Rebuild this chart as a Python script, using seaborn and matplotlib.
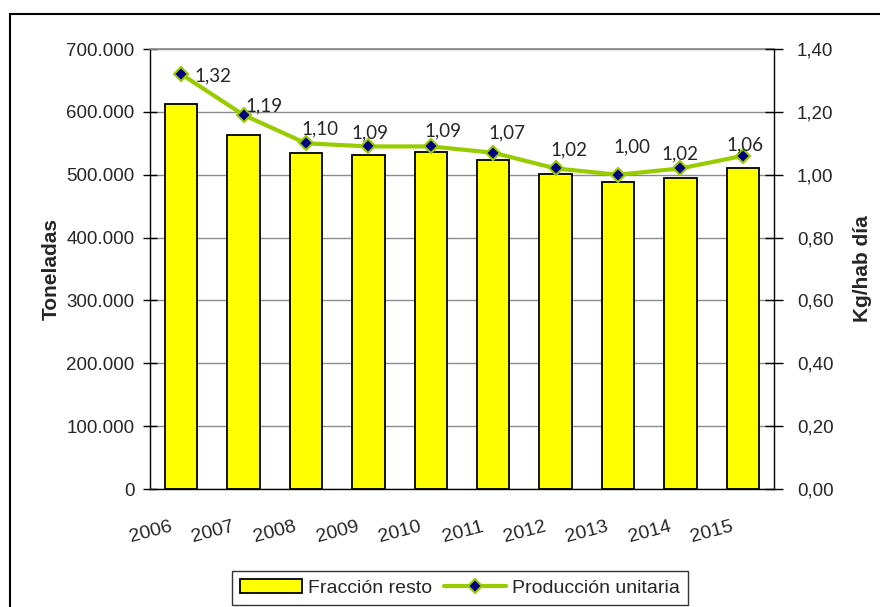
import matplotlib
matplotlib.use('Agg')
import matplotlib.pyplot as plt
import matplotlib.ticker as mticker
from matplotlib.patches import Rectangle
import seaborn as sns
import pandas as pd

# data
years = ["2006", "2007", "2008", "2009", "2010", "2011", "2012", "2013", "2014", "2015"]
toneladas = [612000, 563500, 534000, 531000, 536500, 523500, 501500, 488500, 494000, 510000]
kg_hab_dia = [1.32, 1.19, 1.10, 1.09, 1.09, 1.07, 1.02, 1.00, 1.02, 1.06]
label_text = ["1,32", "1,19", "1,10", "1,09", "1,09", "1,07", "1,02", "1,00", "1,02", "1,06"]
# manual label offsets in pixels (dx, dy) like the original
label_offsets = [(32, -2), (20, 9), (14, 14), (2, 14), (12, 16), (14, 20),
                 (13, 19), (14, 28), (0, 15), (2, 11)]

df = pd.DataFrame({"year": years, "ton": toneladas, "kg": kg_hab_dia})

sns.set_theme(style="white")
plt.rcParams['font.family'] = ['Liberation Sans', 'DejaVu Sans']

BAR = "#FFFF00"
LINE = "#99CC00"
MARK = "#000080"

fig = plt.figure(figsize=(8.8, 6.07), dpi=100)
ax = fig.add_axes([150/880, 1 - 489/607, (774 - 150)/880, (489 - 49)/607])

sns.barplot(data=df, x="year", y="ton", color=BAR, edgecolor="black",
            linewidth=1.3, width=0.52, saturation=1, ax=ax, label="Fracción resto")
ax.set_ylim(0, 700000)
ax.set_xlim(-0.5, 9.5)
ax.yaxis.set_major_locator(mticker.MultipleLocator(100000))
ax.yaxis.set_major_formatter(mticker.FuncFormatter(
    lambda v, p: f"{int(v):,}".replace(",", ".")))
ax.grid(axis="y", color="#8c8c8c", linewidth=1.0)
ax.set_axisbelow(True)
ax.set_xlabel("")
ax.set_ylabel("Toneladas", fontsize=15, fontweight="bold", labelpad=4)

# Excel-style category ticks at the boundaries
ax.set_xticks(range(len(years)))
ax.set_xticklabels(years, fontsize=14, family=["Liberation Sans", "DejaVu Sans"])
ax.set_xticks([i - 0.5 for i in range(len(years) + 1)], minor=True)
ax.tick_params(axis="x", which="major", length=0, pad=21)
ax.tick_params(axis="x", which="minor", length=10, width=1, direction="inout", color="black")
ax.tick_params(axis="y", length=10, width=1, direction="inout", color="black",
               labelsize=13.5, pad=6, left=True)
for lab in ax.get_xticklabels():
    lab.set_rotation(15)
    lab.set_ha("right")
    lab.set_rotation_mode("anchor")
    lab.set_transform(lab.get_transform() +
                      matplotlib.transforms.ScaledTranslation(-0.12, 0, fig.dpi_scale_trans))

for s in ["left", "bottom", "right"]:
    ax.spines[s].set_color("black")
    ax.spines[s].set_linewidth(1.0)
ax.spines["top"].set_color("#8c8c8c")

ax2 = ax.twinx()
sns.lineplot(data=df, x="year", y="kg", ax=ax2, color=LINE, linewidth=3,
             marker="D", markersize=7, markerfacecolor=MARK, markeredgecolor=LINE,
             markeredgewidth=1.5, label="Producción unitaria")
ax2.set_ylim(0, 1.4)
ax2.set_xlim(-0.5, 9.5)
ax2.yaxis.set_major_locator(mticker.MultipleLocator(0.2))
ax2.yaxis.set_major_formatter(mticker.FuncFormatter(
    lambda v, p: f"{v:.2f}".replace(".", ",")))
ax2.tick_params(axis="y", length=13, width=1, direction="inout", color="black",
                labelsize=13.5, pad=10, right=True)
ax2.set_ylabel("Kg/hab día", fontsize=15, fontweight="bold", labelpad=14)
ax2.set_xlabel("")
for s in ax2.spines.values():
    s.set_visible(False)

for i, (v, t) in enumerate(zip(kg_hab_dia, label_text)):
    dx, dy = label_offsets[i]
    ax2.annotate(t, (i, v), xytext=(dx, dy), textcoords="offset pixels",
                 ha="center", va="center", fontsize=13.5, family=["Lato", "DejaVu Sans"])

# legend at the bottom, as in the source
h1, l1 = ax.get_legend_handles_labels()
h2, l2 = ax2.get_legend_handles_labels()
ax.legend_ = None
ax2.legend_.remove()
leg = fig.legend(h1 + h2, l1 + l2, loc="center", bbox_to_anchor=(460/880, 1 - 588/607),
                 ncol=2, frameon=True, fancybox=False, edgecolor="black", fontsize=14,
                 handlelength=3.2, handletextpad=0.3, columnspacing=0.6,
                 borderpad=0.4)
leg.get_frame().set_linewidth(1.0)

# outer chart border (cut off at the right and bottom in the reference)
fig.patches.append(Rectangle((10/880, -0.1), 1.2, 1 - 14/607 + 0.1,
                             transform=fig.transFigure, fill=False,
                             edgecolor="black", linewidth=1.5))

fig.savefig("out.png", dpi=100)
